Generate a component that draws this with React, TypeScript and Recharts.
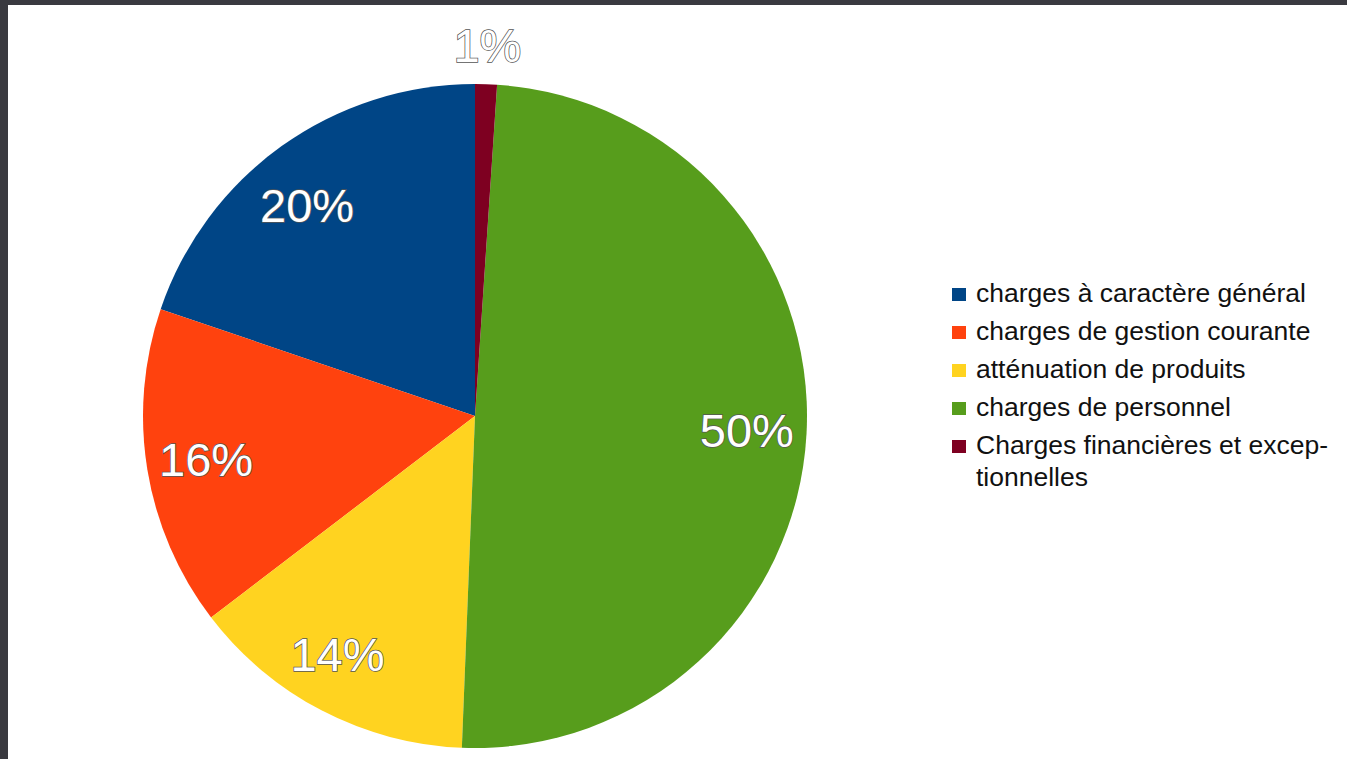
import React from "react";
import { PieChart, Pie, Cell, Legend } from "recharts";

// categories in legend order (drawn counter-clockwise from the top)
const categories = [
    "charges à caractère général",
    "charges de gestion courante",
    "atténuation de produits",
    "charges de personnel",
    "Charges financières et excep\u00ADtionnelles",
];
const shares = [19.8, 15.6, 14.0, 49.6, 1.06];
const colors = ["#004586", "#ff420e", "#ffd320", "#579d1c", "#7e0021"];

const data = categories.map((name, i) => ({ name, value: shares[i] }));

const RADIAN = Math.PI / 180;
const FONT = "'Liberation Sans', Arial, sans-serif";

function renderLabel(props: any) {
    const { cx, cy, midAngle, outerRadius, percent } = props;
    const small = percent < 0.05;
    const r = small ? outerRadius + 39 : outerRadius * 0.82;
    const cos = Math.cos(-midAngle * RADIAN);
    const sin = Math.sin(-midAngle * RADIAN);
    const x = cx + r * cos - (small ? 0 : 14 * (1 - Math.abs(cos)) * 1.6);
    const y = cy + r * sin + (small ? 0 : 13 * Math.max(0, -sin) - 3 * Math.max(0, sin));
    return (
        <text
            x={x}
            y={y}
            textAnchor="middle"
            dominantBaseline="central"
            fontSize={47}
            fontFamily={FONT}
            fill="#ffffff"
            stroke="#555555"
            strokeWidth={1.5}
            paintOrder="stroke"
        >
            {`${Math.round(percent * 100)}%`}
        </text>
    );
}

function renderLegend() {
    return (
        <div style={{ fontFamily: FONT, fontSize: 26.5, lineHeight: "32px", color: "#111" }}>
            {data.map((d, i) => (
                <div key={d.name} style={{ display: "flex", alignItems: "flex-start", marginBottom: 6 }}>
                    <span
                        style={{
                            display: "inline-block",
                            width: 14,
                            height: 13,
                            marginTop: 11,
                            marginRight: 10,
                            background: colors[i],
                            flex: "none",
                        }}
                    />
                    <span style={{ width: 372 }}>{d.name}</span>
                </div>
            ))}
        </div>
    );
}

export default function App() {
    return (
        <div
            style={{
                position: "fixed",
                left: 0,
                top: 0,
                width: 1347,
                height: 759,
                background: "#3a3a40",
                overflow: "hidden",
            }}
        >
            <div
                style={{
                    position: "absolute",
                    left: 8,
                    top: 5,
                    width: 1339,
                    height: 754,
                    background: "#ffffff",
                }}
            >
                <PieChart width={1339} height={754} margin={{ top: 0, right: 0, bottom: 0, left: 0 }}>
                    <Pie
                        data={data}
                        dataKey="value"
                        nameKey="name"
                        cx={467}
                        cy={411}
                        outerRadius={332}
                        startAngle={90}
                        endAngle={450}
                        stroke="none"
                        labelLine={false}
                        label={renderLabel}
                        isAnimationActive={false}
                    >
                        {data.map((d, i) => (
                            <Cell key={d.name} fill={colors[i]} />
                        ))}
                    </Pie>
                    <Legend
                        layout="vertical"
                        align="right"
                        verticalAlign="top"
                        content={renderLegend}
                        wrapperStyle={{ left: 944, top: 272, width: 400, right: "auto" }}
                    />
                </PieChart>
            </div>
        </div>
    );
}
